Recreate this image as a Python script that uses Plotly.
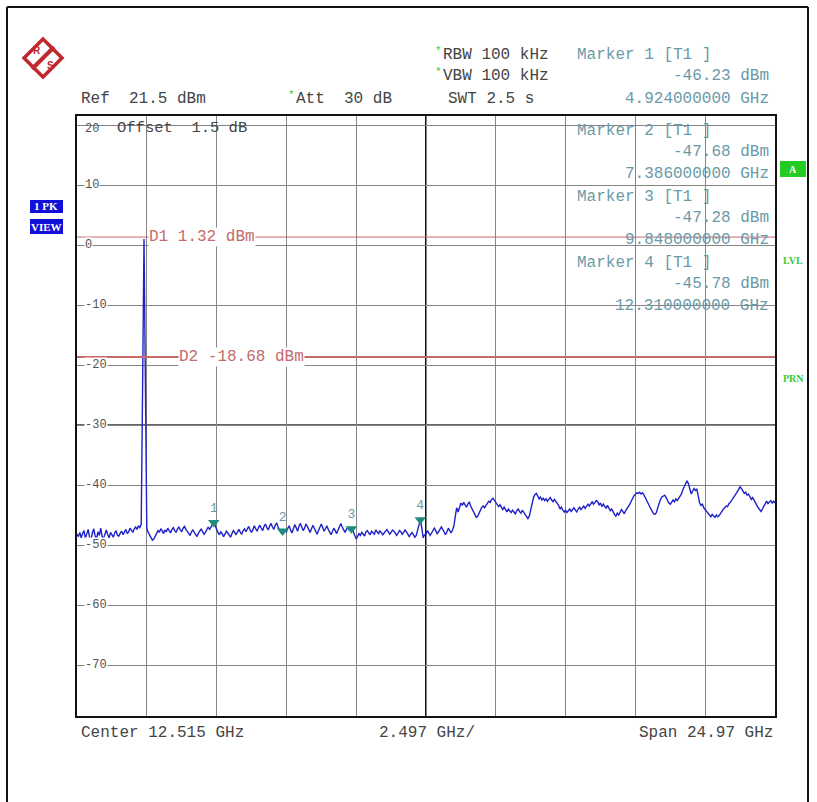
import numpy as np
import plotly.graph_objects as go

# ---------------- data ----------------
START_GHZ = 0.03
STOP_GHZ = 25.0
N_POINTS = 501

level_div0 = [-48.2, -48.6, -47.9, -48.8, -48.1, -47.6, -48.9, -48.3, -47.4, -48.7,
              -49.2, -48.0, -47.3, -48.5, -49.0, -47.8, -48.4, -47.2, -48.6, -48.9,
              -48.1, -47.5, -48.3, -48.8, -47.9, -48.2, -48.7, -48.0, -47.6, -48.4,
              -48.5, -48.0, -47.7, -48.3, -47.9, -47.4, -48.1, -47.8, -47.2, -47.6,
              -47.9, -47.3, -47.0, -47.4, -46.8, -47.1, -46.6, -23.5, 1.0, -23.0]
level_div1 = [-47.2, -47.9, -48.4, -48.8, -49.2, -49.0, -48.5, -48.0, -47.6, -47.9,
              -47.3, -47.6, -48.1, -47.5, -47.8, -47.2, -47.7, -48.0, -47.4, -47.1,
              -47.6, -47.9, -47.3, -47.0, -47.5, -47.8, -47.2, -46.9, -47.4, -47.7,
              -48.1, -48.4, -47.8, -47.5, -47.9, -48.3, -48.6, -48.0, -47.6, -47.3,
              -47.8, -48.2, -47.9, -47.5, -47.0, -47.4, -46.9, -46.6, -46.23, -46.8]
level_div2 = [-47.5, -47.9, -48.3, -47.8, -48.1, -48.6, -48.2, -47.7, -48.0, -48.4,
              -48.7, -48.1, -47.6, -47.9, -48.3, -47.8, -47.4, -47.9, -48.2, -47.6,
              -47.3, -47.8, -47.2, -46.9, -47.5, -47.9, -47.4, -46.8, -47.3, -47.7,
              -47.1, -46.7, -47.2, -47.6, -46.9, -46.5, -47.1, -47.5, -46.8, -46.4,
              -47.0, -47.4, -46.7, -46.3, -47.0, -47.5, -47.9, -47.68, -48.0, -47.6]
level_div3 = [-47.8, -47.2, -46.8, -47.5, -48.0, -47.3, -46.6, -47.1, -47.7, -46.9,
              -46.4, -47.0, -47.6, -47.2, -46.5, -46.9, -47.5, -47.9, -47.3, -46.7,
              -47.2, -47.8, -48.2, -47.6, -47.0, -46.5, -47.1, -47.7, -47.3, -46.8,
              -47.4, -47.9, -48.3, -47.7, -47.2, -47.6, -48.1, -47.5, -46.9, -46.4,
              -47.0, -47.5, -47.9, -47.4, -47.0, -47.6, -47.3, -47.28, -47.8, -48.5]
level_div4 = [-49.0, -48.6, -48.1, -48.4, -47.9, -48.2, -48.5, -47.8, -47.6, -48.0,
              -48.3, -47.7, -47.9, -48.2, -47.5, -47.8, -48.1, -47.6, -47.9, -48.3,
              -48.0, -47.6, -47.4, -47.8, -48.2, -47.9, -47.5, -47.7, -48.1, -48.4,
              -48.0, -47.6, -47.8, -48.2, -47.9, -47.5, -47.8, -48.3, -48.6, -48.2,
              -47.9, -48.3, -48.7, -48.4, -47.6, -46.8, -45.78, -47.2, -48.8, -48.3]
level_div5 = [-48.2, -47.6, -47.9, -48.4, -48.0, -47.5, -47.2, -47.6, -48.1, -47.8,
              -47.3, -47.0, -47.4, -47.9, -48.3, -47.8, -47.2, -47.6, -48.0, -47.5,
              -46.8, -45.2, -43.8, -44.5, -43.6, -43.0, -43.4, -42.9, -43.3, -43.7,
              -43.2, -42.8, -43.5, -44.0, -44.6, -45.0, -45.4, -45.2, -44.6, -44.0,
              -43.7, -43.5, -43.8, -43.4, -43.0, -42.7, -42.9, -42.4, -42.2, -42.6]
level_div6 = [-42.9, -43.2, -43.6, -43.3, -43.8, -44.1, -43.7, -44.2, -44.5, -44.0,
              -44.3, -44.6, -44.2, -44.5, -44.8, -44.3, -44.0, -44.4, -44.7, -44.2,
              -44.6, -44.9, -45.3, -45.6, -45.2, -44.0, -42.8, -42.1, -41.6, -41.4,
              -41.8, -42.3, -42.0, -42.5, -42.2, -42.6, -42.3, -42.7, -42.4, -42.1,
              -42.5, -42.8, -42.4, -42.7, -43.0, -43.4, -44.0, -43.7, -44.2, -44.5]
level_div7 = [-44.2, -44.6, -44.3, -44.0, -44.4, -44.1, -43.8, -44.2, -44.5, -44.0,
              -43.7, -44.1, -43.8, -43.5, -43.9, -43.6, -43.2, -43.5, -43.1, -42.8,
              -43.2, -42.9, -42.6, -42.8, -43.3, -43.0, -43.6, -43.2, -43.5, -43.9,
              -43.4, -43.8, -44.3, -44.0, -44.6, -44.9, -45.2, -44.7, -45.0, -44.5,
              -44.1, -44.4, -44.8, -44.3, -44.0, -43.7, -43.2, -42.7, -42.2, -41.8]
level_div8 = [-41.6, -41.3, -41.4, -41.2, -41.5, -41.3, -41.6, -42.0, -42.4, -43.0,
              -43.5, -44.0, -44.4, -44.8, -44.9, -44.6, -43.8, -43.0, -42.4, -42.0,
              -41.8, -41.7, -42.1, -42.6, -43.0, -43.2, -42.9, -42.5, -42.8, -42.3,
              -42.6, -42.2, -42.0, -41.5, -40.8, -40.2, -39.6, -39.3, -39.8, -40.9,
              -41.5, -41.0, -40.6, -40.9, -40.7, -41.8, -43.0, -43.4, -43.2, -43.8]
level_div9 = [-44.1, -44.5, -44.8, -45.0, -45.3, -44.9, -45.2, -45.4, -45.0, -45.3,
              -45.1, -44.7, -44.4, -44.0, -43.8, -43.5, -43.6, -43.1, -42.9, -42.6,
              -42.2, -42.0, -41.5, -41.1, -40.6, -40.3, -40.6, -41.0, -41.4, -41.2,
              -41.7, -41.5, -42.0, -42.4, -42.1, -42.6, -43.0, -43.4, -43.8, -44.2,
              -44.4, -44.0, -43.6, -43.0, -42.7, -43.1, -42.8, -42.6, -43.0, -42.7, -43.0]

marker_names = ["1", "2", "3", "4"]
marker_freq = [4.924, 7.386, 9.848, 12.31]
marker_level = [-46.23, -47.68, -47.28, -45.78]
marker_freq_text = ["4.924000000 GHz", "7.386000000 GHz", "9.848000000 GHz", "12.310000000 GHz"]

display_lines = ["D1", "D2"]
display_levels = [1.32, -18.68]

y_ticks = [20, 10, 0, -10, -20, -30, -40, -50, -60, -70]
REF_LEVEL = 21.5
Y_BOTTOM = -78.5
DIV_GHZ = 2.497
CENTER_GHZ = 12.515

level = (level_div0 + level_div1 + level_div2 + level_div3 + level_div4 +
         level_div5 + level_div6 + level_div7 + level_div8 + level_div9)
freq = np.linspace(START_GHZ, STOP_GHZ, N_POINTS)

# ---------------- layout helpers ----------------
W, H = 817, 802
PL, PR, PT, PB = 77, 775, 116, 716


def X(px):
    return (px - PL) / (PR - PL)


def Y(py):
    return (PB - py) / (PB - PT)


MONO = "Liberation Mono, Courier New, monospace"
TXT = "#454545"
MK = "#6a9aa8"
RED = "#c46a6a"
GREEN = "#33cc33"

fig = go.Figure()

fig.add_trace(go.Scatter(x=freq, y=level, mode="lines",
                         line=dict(color="#1f22c8", width=1.4),
                         hoverinfo="skip", showlegend=False))

fig.add_trace(go.Scatter(x=marker_freq, y=marker_level, mode="markers+text",
                         text=marker_names, textposition="top center",
                         textfont=dict(family=MONO, size=13, color=MK),
                         marker=dict(symbol="triangle-down", size=10, color="#1d8c7e"),
                         hoverinfo="skip", showlegend=False))

grid_x = [START_GHZ + k * DIV_GHZ for k in range(1, 10)]

fig.update_xaxes(range=[START_GHZ, STOP_GHZ], tickvals=grid_x, showticklabels=False,
                 showgrid=True, gridcolor="#858585", gridwidth=1, zeroline=False,
                 showline=True, linecolor="#111", linewidth=2, mirror=True, ticks="")
fig.update_yaxes(range=[Y_BOTTOM, REF_LEVEL], tickvals=y_ticks, showticklabels=False,
                 showgrid=True, gridcolor="#858585", gridwidth=1, zeroline=False,
                 showline=True, linecolor="#111", linewidth=2, mirror=True, ticks="")

shapes = []
# centre line and darker -30 line
shapes.append(dict(type="line", xref="x", yref="paper", x0=CENTER_GHZ, x1=CENTER_GHZ,
                   y0=0, y1=1, line=dict(color="#111", width=2), layer="below"))
shapes.append(dict(type="line", xref="paper", yref="y", x0=0, x1=1, y0=-30, y1=-30,
                   line=dict(color="#333", width=1.5), layer="below"))
# display lines
for name, v in zip(display_lines, display_levels):
    shapes.append(dict(type="line", xref="paper", yref="y", x0=0, x1=1, y0=v, y1=v,
                       line=dict(color=RED, width=1 if name == "D1" else 2)))
# outer frame
shapes.append(dict(type="line", xref="paper", yref="paper", x0=X(7), x1=X(808), y0=Y(7), y1=Y(7),
                   line=dict(color="#111", width=2)))
shapes.append(dict(type="line", xref="paper", yref="paper", x0=X(7), x1=X(7), y0=Y(7), y1=Y(820),
                   line=dict(color="#111", width=2)))
shapes.append(dict(type="line", xref="paper", yref="paper", x0=X(808), x1=X(808), y0=Y(7), y1=Y(820),
                   line=dict(color="#111", width=2)))
# logo diamond
cx, cy, r = 43, 58, 19
shapes.append(dict(type="path", xref="paper", yref="paper",
                   path=f"M {X(cx)},{Y(cy - r)} L {X(cx + r)},{Y(cy)} L {X(cx)},{Y(cy + r)} L {X(cx - r)},{Y(cy)} Z",
                   line=dict(color="#c0282e", width=3.5), fillcolor="white"))
shapes.append(dict(type="line", xref="paper", yref="paper", x0=X(cx - 11), y0=Y(cy + 11),
                   x1=X(cx + 11), y1=Y(cy - 11), line=dict(color="#c0282e", width=4)))
# status boxes
shapes.append(dict(type="rect", xref="paper", yref="paper", x0=X(30), x1=X(63), y0=Y(213), y1=Y(200),
                   fillcolor="#1010d8", line=dict(width=0)))
shapes.append(dict(type="rect", xref="paper", yref="paper", x0=X(30), x1=X(63), y0=Y(234), y1=Y(219),
                   fillcolor="#1010d8", line=dict(width=0)))
shapes.append(dict(type="rect", xref="paper", yref="paper", x0=X(780), x1=X(806), y0=Y(177), y1=Y(161),
                   fillcolor="#22cc22", line=dict(width=0)))

ann = []


def txt(px, py, s, color=TXT, size=16, anchor="left", bg=None, family=MONO):
    d = dict(xref="paper", yref="paper", x=X(px), y=Y(py), text=s, showarrow=False,
             xanchor=anchor, yanchor="middle", font=dict(family=family, size=size, color=color))
    if bg:
        d["bgcolor"] = bg
        d["borderpad"] = 0
    ann.append(d)


# header
txt(79, 99, "Ref  21.5 dBm")
txt(286, 95, "*", color=GREEN, size=11)
txt(294, 99, "Att  30 dB")
txt(433, 51, "*", color=GREEN, size=11)
txt(441, 55, "RBW 100 kHz")
txt(433, 72, "*", color=GREEN, size=11)
txt(441, 76, "VBW 100 kHz")
txt(446, 99, "SWT 2.5 s")

# marker 1 block (header)
txt(575, 55, "Marker 1 [T1 ]", color=MK)
txt(771, 76, f"{marker_level[0]:.2f} dBm", color=MK, anchor="right")
txt(771, 99, marker_freq_text[0], color=MK, anchor="right")
# markers 2-4 inside plot
for i, y0 in zip(range(1, 4), [131, 197, 263]):
    txt(575, y0, f"Marker {marker_names[i]} [T1 ]", color=MK)
    txt(771, y0 + 21, f"{marker_level[i]:.2f} dBm", color=MK, anchor="right")
    txt(771, y0 + 43, marker_freq_text[i], color=MK, anchor="right")

# offset text
txt(115, 128, "Offset  1.5 dB", size=15.5)

# y tick labels on grid lines
for v in y_ticks:
    d = dict(xref="paper", yref="y", x=X(84), y=v, text=str(v), showarrow=False,
             xanchor="left", yanchor="middle", font=dict(family=MONO, size=12, color="#555"),
             bgcolor="white", borderpad=0)
    if v == 20:
        d["yshift"] = -4
        d.pop("bgcolor")
    ann.append(d)

# display line labels
ann.append(dict(xref="paper", yref="y", x=X(148), y=display_levels[0], text=f"D1 {display_levels[0]:.2f} dBm",
                showarrow=False, xanchor="left", yanchor="middle",
                font=dict(family=MONO, size=16, color=RED), bgcolor="white", borderpad=0))
ann.append(dict(xref="paper", yref="y", x=X(178), y=display_levels[1], text=f"D2 {display_levels[1]:.2f} dBm",
                showarrow=False, xanchor="left", yanchor="middle",
                font=dict(family=MONO, size=16, color=RED), bgcolor="white", borderpad=0))

# bottom labels
txt(79, 733, f"Center {CENTER_GHZ:.3f} GHz")
txt(427, 733, f"{DIV_GHZ:.3f} GHz/", anchor="center")
txt(775, 733, f"Span {STOP_GHZ - START_GHZ:.2f} GHz", anchor="right")

# side labels
txt(46, 206, "<b>1 PK</b>", color="white", size=11, anchor="center", family="Liberation Serif")
txt(46, 227, "<b>VIEW</b>", color="white", size=11, anchor="center", family="Liberation Serif")
txt(793, 169, "<b>A</b>", color="white", size=10, anchor="center", family="Liberation Serif")
txt(793, 260, "<b>LVL</b>", color=GREEN, size=10, anchor="center", family="Liberation Serif")
txt(793, 378, "<b>PRN</b>", color=GREEN, size=10, anchor="center", family="Liberation Serif")

# logo letters
txt(37, 51, "<b>R</b>", color="#c0282e", size=10, anchor="center", family="Liberation Sans")
txt(50, 65, "<b>S</b>", color="#c0282e", size=10, anchor="center", family="Liberation Sans")

fig.update_layout(width=W, height=H, margin=dict(l=PL, r=W - PR, t=PT, b=H - PB),
                  paper_bgcolor="white", plot_bgcolor="white",
                  shapes=shapes, annotations=ann, showlegend=False)

fig.write_html("out.html")
